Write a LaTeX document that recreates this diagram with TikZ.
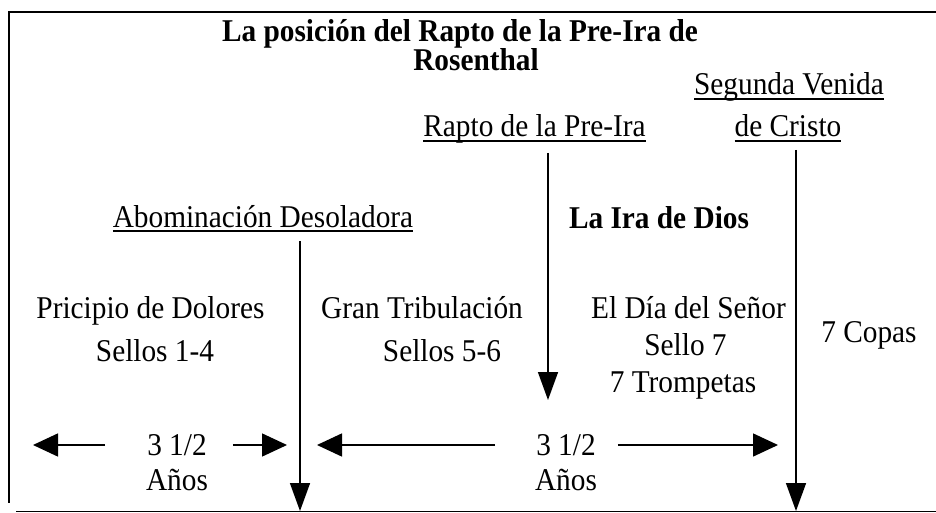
\documentclass[tikz,border=0pt]{standalone}
\usepackage{fontspec}
\setmainfont{Liberation Serif}[FakeStretch=0.925]
\usetikzlibrary{arrows.meta}
\tikzstyle{texto} = [anchor=base, inner sep=1pt,
  font=\fontsize{31.7}{25}\selectfont]
\tikzstyle{titulo} = [texto, font=\fontsize{31.7}{25}\selectfont\bfseries]
\tikzstyle{marco} = [draw, line width=2.1pt]
\tikzstyle{baja} = [draw, line width=1.5pt,
  -{Triangle[length=28pt,width=20pt]}, shorten <=8pt]
\tikzstyle{lado} = [draw, line width=1.5pt,
  -{Triangle[length=25pt,width=23pt]}]
\newcommand{\subrayado}[1]{\sbox0{#1}\rlap{\rule[-4.8pt]{\wd0}{1.6pt}}\usebox0}
\newcommand{\texto}[2]{node (#1) [texto] {#2}}
\newcommand{\titulo}[2]{node (#1) [titulo, align=center] {#2}}
\newcommand{\marca}[2]{node (#1) [texto] {\subrayado{#2}}}
\begin{document}
\begin{tikzpicture}[x=1pt, y=-1pt]
\useasboundingbox (0,0) rectangle (936,513);
% Marco
\path[marco] (8,12) -- (936,12);
\path[marco] (9,12) -- (9,503);
\path[draw, line width=1.2pt] (16,511.6) -- (936,511.6);

% Titulo (base = ultima linea)
\path (460,71) \titulo{titulo}{La posición del Rapto de la Pre-Ira de\\
  \hspace*{32pt}Rosenthal};

% Acontecimientos
\path (789,95) \marca{venida}{Segunda Venida};
\path (venida.base) +(-1,42) \marca{cristo}{de Cristo};
\path (534.5,137) \marca{rapto}{Rapto de la Pre-Ira};
\path (263,227) \marca{abom}{Abominación Desoladora};
\path (659,228) \titulo{ira}{La Ira de Dios};

% Periodos
\path (150.5,318) \texto{dolores}{Pricipio de Dolores};
\path (dolores.base) +(4.5,43) \texto{sellos1}{Sellos 1-4};
\path (422,318) \texto{tribu}{Gran Tribulación};
\path (tribu.base) +(20,43) \texto{sellos2}{Sellos 5-6};
\path (688.5,318) \texto{senor}{El Día del Señor};
\path (senor.base) +(-3,37) \texto{sello7}{Sello 7};
\path (sello7.base) +(-2.5,37) \texto{trompetas}{7 Trompetas};
\path (869,342) \texto{copas}{7 Copas};

% Anos
\path (177,455) \texto{mitad1}{3 1/2};
\path (mitad1.base) +(0,35) \texto{anos1}{Años};
\path (566,455) \texto{mitad2}{3 1/2};
\path (mitad2.base) +(0,35) \texto{anos2}{Años};

% Puntas
\coordinate (pAbom) at (300,511);
\coordinate (pRapto) at (548,400);
\coordinate (pVenida) at (796,511);
\coordinate (pIzq1) at (33,445);
\coordinate (pDer1) at (287,445);
\coordinate (pIzq2) at (317,445);
\coordinate (pDer2) at (778,445);

% Flechas
\path [baja] (abom.south -| pAbom) -- (pAbom);
\path [baja] (rapto.south -| pRapto) -- (pRapto);
\path [baja, shorten <=7pt] (cristo.south -| pVenida) -- (pVenida);
\path [lado, shorten <=41pt] (mitad1.west |- pIzq1) -- (pIzq1);
\path [lado, shorten <=25pt] (mitad1.east |- pDer1) -- (pDer1);
\path [lado, shorten <=40pt] (mitad2.west |- pIzq2) -- (pIzq2);
\path [lado, shorten <=21pt] (mitad2.east |- pDer2) -- (pDer2);
\end{tikzpicture}
\end{document}
